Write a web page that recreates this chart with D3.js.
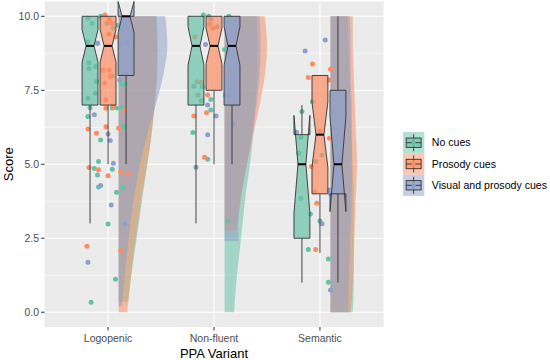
<!DOCTYPE html>
<html>
<head>
<meta charset="utf-8">
<script src="https://d3js.org/d3.v7.min.js"></script>
<style>
  body { margin: 0; background: #fff; }
  text { font-family: "Liberation Sans", Arial, sans-serif; }
</style>
</head>
<body>
<div id="chart"></div>
<script>
// ---- data ----
var variants = ["Logopenic", "Non-fluent", "Semantic"];
var cues = ["No cues", "Prosody cues", "Visual and prosody cues"];
var cueColors = ["#66C2A5", "#FC8D62", "#8DA0CB"];
var yTicks = [0, 2.5, 5, 7.5, 10];
var yMinor = [1.25, 3.75, 6.25, 8.75];

// box stats per cue: [lower whisker, q1, median, q3, upper whisker, notch low, notch high]
var boxLogopenic = [[3, 7, 9, 10, 10, 8.45, 9.55], [5, 7, 9, 10, 10, 8.45, 9.55], [5, 8, 10, 10, 10, 9.45, 10.5]];
var boxNonfluent = [[3, 7, 9, 10, 10, 8.35, 9.65], [5, 7.5, 9, 10, 10, 8.4, 9.6], [5, 7, 9, 10, 10, 8.35, 9.65]];
var boxSemantic = [[1, 2.5, 5, 6, 7, 3.35, 6.65], [2, 4, 6, 8, 8, 4.9, 7.1], [1, 4, 5, 7.5, 10, 3.4, 6.6]];

// half violin outlines per cue: [score, density]
var violinLogopenic = [
  [[0.35, 9], [1, 11], [2, 15], [3, 19], [4, 23], [5, 27], [6, 31], [7, 34], [8, 36], [9, 37], [10, 36]],
  [[0, 8], [1, 11], [2, 14], [3, 18], [4, 22], [5, 27], [6, 31], [7, 34], [8, 36], [9, 36], [10, 35]],
  [[0.2, 3], [1, 5], [2, 8], [3, 11], [4, 15], [5, 20], [6, 27], [7, 35], [8, 42], [9, 46], [10, 44]]
];
var violinNonfluent = [
  [[0, 9], [1, 11], [2, 14], [3, 17], [4, 20], [5, 24], [6, 27], [7, 29], [8, 31], [9, 31], [10, 30]],
  [[2.75, 11], [3, 12], [4, 16], [5, 21], [6, 27], [7, 33], [8, 38], [9, 40], [10, 38]],
  [[2.4, 13], [3, 13], [4, 16], [5, 21], [6, 26], [7, 30], [8, 33], [9, 34], [10, 33]]
];
var violinSemantic = [
  [[0, 21], [1, 22], [2, 22], [3, 22], [4, 22], [5, 21], [6, 20], [7, 19], [8, 18], [9, 17], [10, 16]],
  [[0, 19], [1, 21], [2, 22], [3, 23], [4, 24], [5, 25], [6, 24], [7, 23], [8, 22], [9, 21], [10, 21]],
  [[0, 17], [1, 17], [2, 18], [3, 19], [4, 20], [5, 20], [6, 20], [7, 20], [8, 19], [9, 19], [10, 18]]
];

// jittered points per cue: [jitter, score]
var pointsLogopenic = [
  [[-0.19, 9.93], [-0.15, 9.76], [-0.07, 10], [0.05, 9.6], [0.10, 9.7], [-0.19, 9.14], [-0.10, 9.08], [-0.18, 8.43],
   [-0.12, 8.3], [-0.11, 7.8], [0.04, 7.98], [0.13, 7.7], [0.17, 7.71], [-0.19, 7.23], [-0.17, 6.91], [0.04, 6.9],
   [0.08, 6.9], [0.13, 6.93], [-0.19, 6.61], [0.16, 6.29], [0.15, 6.27], [-0.07, 5.82], [-0.09, 5.09], [-0.13, 4.86],
   [0.04, 4.83], [-0.10, 4.64], [-0.09, 4.23], [0.14, 4.21], [0.08, 4.05], [0.0, 2.98], [0.07, 1.11], [-0.16, 0.34]],
  [[-0.03, 10.04], [0.01, 9.9], [0.04, 9.76], [0.01, 9.4], [0.07, 9.3], [-0.05, 8.18], [0.01, 8.18], [0.02, 7.96],
   [-0.03, 7.74], [-0.02, 7.18], [-0.02, 6.89], [0.05, 6.95], [0.16, 6.83], [-0.19, 6.19], [-0.11, 6.05], [-0.02, 6.27],
   [0.10, 6.22], [-0.18, 4.89], [-0.09, 4.81], [0.12, 4.73], [0.19, 4.67], [0.0, 4.61], [-0.20, 2.23], [0.12, 2.08]],
  [[-0.01, 9.76], [0.16, 9.76], [-0.10, 9.1], [0.18, 9.1], [-0.18, 8.24], [0.16, 8.07], [0.11, 7.85], [-0.12, 7.4],
   [-0.13, 6.67], [0.0, 6.02], [0.02, 5.8], [0.05, 5.03], [-0.07, 4.28], [0.03, 3.62], [0.16, 2.98], [-0.19, 1.69]]
];
var pointsNonfluent = [
  [[-0.10, 10.04], [-0.05, 10], [0.14, 10], [0.10, 8.88], [-0.11, 7.62], [-0.12, 7.15], [-0.03, 7.19], [-0.03, 6.83],
   [-0.20, 6.07], [-0.06, 5.17], [0.13, 3.08]],
  [[-0.04, 9.74], [-0.01, 9.6], [-0.18, 9.31], [0.13, 8.07], [-0.16, 7.79], [-0.12, 7.76], [-0.15, 7.34], [-0.06, 7.34],
   [-0.07, 6.74], [-0.19, 6.63], [-0.09, 5.24]],
  [[-0.03, 9.9], [0.03, 9.65], [-0.08, 9.05], [-0.19, 7.64], [0.11, 7.34], [0.15, 7.34], [-0.06, 7.0], [0.02, 6.63],
   [0.18, 6.36], [-0.06, 6.0], [-0.17, 4.9]]
];
var pointsSemantic = [
  [[-0.07, 7.11], [-0.17, 6.78], [-0.18, 5.9], [-0.20, 5.37], [0.15, 5.63], [-0.04, 5.09], [0.02, 5.31], [-0.18, 3.85],
   [-0.09, 3.32], [0.0, 3.08], [-0.11, 2.12], [0.08, 1.8], [0.08, 1.01]],
  [[-0.07, 8.39], [0.10, 8.21], [-0.11, 7.93], [0.09, 7.85], [0.09, 5.88], [0.0, 6.12], [-0.08, 4.92], [-0.05, 4.07],
   [-0.03, 3.68], [-0.04, 2.12]],
  [[0.05, 9.2], [-0.14, 8.83], [-0.22, 6.08], [0.17, 5.15], [0.09, 4.13], [0.10, 4.0], [0.02, 2.99], [0.10, 0.75]]
];

var boxes = [boxLogopenic, boxNonfluent, boxSemantic];
var violins = [violinLogopenic, violinNonfluent, violinSemantic];
var points = [pointsLogopenic, pointsNonfluent, pointsSemantic];

// ---- layout ----
var W = 550, H = 360;
var panel = {left: 44.5, right: 383.5, top: 1.5, bottom: 327};

var svg = d3.select("#chart").append("svg")
  .attr("width", W).attr("height", H);

var x = d3.scalePoint().domain(variants).range([panel.left, panel.right]).padding(0.6);
var y = d3.scaleLinear().domain([-0.5, 10.5]).range([panel.bottom, panel.top]);
var unit = x.step();
var dodge = d3.scalePoint().domain(cues).range([-0.17 * unit, 0.17 * unit]);
var boxW = 0.15 * unit;
var vw = d3.scaleLinear().domain([0, 100]).range([0, unit]);
var color = d3.scaleOrdinal().domain(cues).range(cueColors);

// panel background and grid
svg.append("rect")
  .attr("x", panel.left).attr("y", panel.top)
  .attr("width", panel.right - panel.left).attr("height", panel.bottom - panel.top)
  .attr("fill", "#EBEBEB");

svg.selectAll(".minor").data(yMinor).enter().append("line")
  .attr("x1", panel.left).attr("x2", panel.right)
  .attr("y1", d => y(d)).attr("y2", d => y(d))
  .attr("stroke", "#fff").attr("stroke-width", 0.55);
svg.selectAll(".major").data(yTicks).enter().append("line")
  .attr("x1", panel.left).attr("x2", panel.right)
  .attr("y1", d => y(d)).attr("y2", d => y(d))
  .attr("stroke", "#fff").attr("stroke-width", 1.1);
svg.selectAll(".vmajor").data(variants).enter().append("line")
  .attr("x1", d => x(d)).attr("x2", d => x(d))
  .attr("y1", panel.top).attr("y2", panel.bottom)
  .attr("stroke", "#fff").attr("stroke-width", 1.1);

// half violins
var area = d3.area()
  .curve(d3.curveMonotoneY)
  .y(d => y(d[0]));

variants.forEach(function(v, vi) {
  var left = x(v) + 0.1 * unit;
  violins[vi].forEach(function(vals, ci) {
    area.x0(left).x1(d => left + vw(d[1]));
    svg.append("path")
      .attr("d", area(vals))
      .attr("fill", cueColors[ci])
      .attr("fill-opacity", 0.52);
  });
});

// jittered points
variants.forEach(function(v, vi) {
  points[vi].forEach(function(pts, ci) {
    svg.append("g").selectAll("circle").data(pts).enter().append("circle")
      .attr("cx", d => x(v) + d[0] * unit)
      .attr("cy", d => y(d[1]))
      .attr("r", 2.5)
      .attr("fill", cueColors[ci]);
  });
});

// notched boxplots
function boxPath(cx, s) {
  var x0 = cx - boxW / 2, x1 = cx + boxW / 2, ind = boxW * 0.25;
  var p = d3.path();
  p.moveTo(x0, y(s[3]));
  p.lineTo(x0, y(s[6]));
  p.lineTo(x0 + ind, y(s[2]));
  p.lineTo(x0, y(s[5]));
  p.lineTo(x0, y(s[1]));
  p.lineTo(x1, y(s[1]));
  p.lineTo(x1, y(s[5]));
  p.lineTo(x1 - ind, y(s[2]));
  p.lineTo(x1, y(s[6]));
  p.lineTo(x1, y(s[3]));
  p.closePath();
  return p.toString();
}

variants.forEach(function(v, vi) {
  boxes[vi].forEach(function(s, ci) {
    var cx = x(v) + dodge(cues[ci]);
    var g = svg.append("g");
    g.append("line").attr("x1", cx).attr("x2", cx)
      .attr("y1", y(s[3])).attr("y2", y(s[4]))
      .attr("stroke", "#333").attr("stroke-width", 0.9);
    g.append("line").attr("x1", cx).attr("x2", cx)
      .attr("y1", y(s[1])).attr("y2", y(s[0]))
      .attr("stroke", "#333").attr("stroke-width", 0.9);
    g.append("path").attr("d", boxPath(cx, s))
      .attr("fill", cueColors[ci]).attr("fill-opacity", 0.7)
      .attr("stroke", "#333").attr("stroke-width", 0.9);
    g.append("line")
      .attr("x1", cx - boxW / 2 + boxW * 0.25).attr("x2", cx + boxW / 2 - boxW * 0.25)
      .attr("y1", y(s[2])).attr("y2", y(s[2]))
      .attr("stroke", "#000").attr("stroke-width", 2);
  });
});

// axes
var yAxis = svg.append("g");
yAxis.selectAll("line").data(yTicks).enter().append("line")
  .attr("x1", panel.left - 3.5).attr("x2", panel.left)
  .attr("y1", d => y(d)).attr("y2", d => y(d))
  .attr("stroke", "#333").attr("stroke-width", 1);
yAxis.selectAll("text").data(yTicks).enter().append("text")
  .attr("x", panel.left - 5.5).attr("y", d => y(d)).attr("dy", "0.35em")
  .attr("text-anchor", "end").attr("font-size", "10.5px").attr("fill", "#4D4D4D")
  .text(d => d3.format(".1f")(d));

var xAxis = svg.append("g");
xAxis.selectAll("line").data(variants).enter().append("line")
  .attr("x1", d => x(d)).attr("x2", d => x(d))
  .attr("y1", panel.bottom).attr("y2", panel.bottom + 3.5)
  .attr("stroke", "#333").attr("stroke-width", 1);
xAxis.selectAll("text").data(variants).enter().append("text")
  .attr("x", d => x(d)).attr("y", 342)
  .attr("text-anchor", "middle").attr("font-size", "10.5px").attr("fill", "#4D4D4D")
  .text(d => d);

svg.append("text")
  .attr("x", (panel.left + panel.right) / 2).attr("y", 357.5)
  .attr("text-anchor", "middle").attr("font-size", "13px").attr("fill", "#000")
  .text("PPA Variant");
svg.append("text")
  .attr("transform", "translate(12.5," + ((panel.top + panel.bottom) / 2) + ") rotate(-90)")
  .attr("text-anchor", "middle").attr("font-size", "13px").attr("fill", "#000")
  .text("Score");

// legend
var keySize = 21.3, legX = 403, legY = 164 - keySize * 1.5;
var legend = svg.append("g").attr("transform", "translate(" + legX + "," + legY + ")");
cues.forEach(function(c, i) {
  var g = legend.append("g").attr("transform", "translate(0," + (i * keySize) + ")");
  g.append("rect").attr("width", keySize).attr("height", keySize)
    .attr("fill", color(c)).attr("fill-opacity", 0.5);
  var cx = keySize / 2;
  g.append("line").attr("x1", cx).attr("x2", cx).attr("y1", keySize * 0.1).attr("y2", keySize * 0.9)
    .attr("stroke", "#333").attr("stroke-width", 0.9);
  g.append("rect").attr("x", keySize * 0.15).attr("y", keySize * 0.28)
    .attr("width", keySize * 0.7).attr("height", keySize * 0.44)
    .attr("fill", color(c)).attr("fill-opacity", 0.7)
    .attr("stroke", "#333").attr("stroke-width", 0.9);
  g.append("line").attr("x1", keySize * 0.15).attr("x2", keySize * 0.85)
    .attr("y1", keySize / 2).attr("y2", keySize / 2)
    .attr("stroke", "#333").attr("stroke-width", 0.9);
  g.append("circle").attr("cx", cx).attr("cy", keySize / 2).attr("r", 2)
    .attr("fill", color(c));
  g.append("text").attr("x", keySize + 7.5).attr("y", keySize / 2).attr("dy", "0.35em")
    .attr("font-size", "10.6px").attr("fill", "#000")
    .text(c);
});
</script>
</body>
</html>
